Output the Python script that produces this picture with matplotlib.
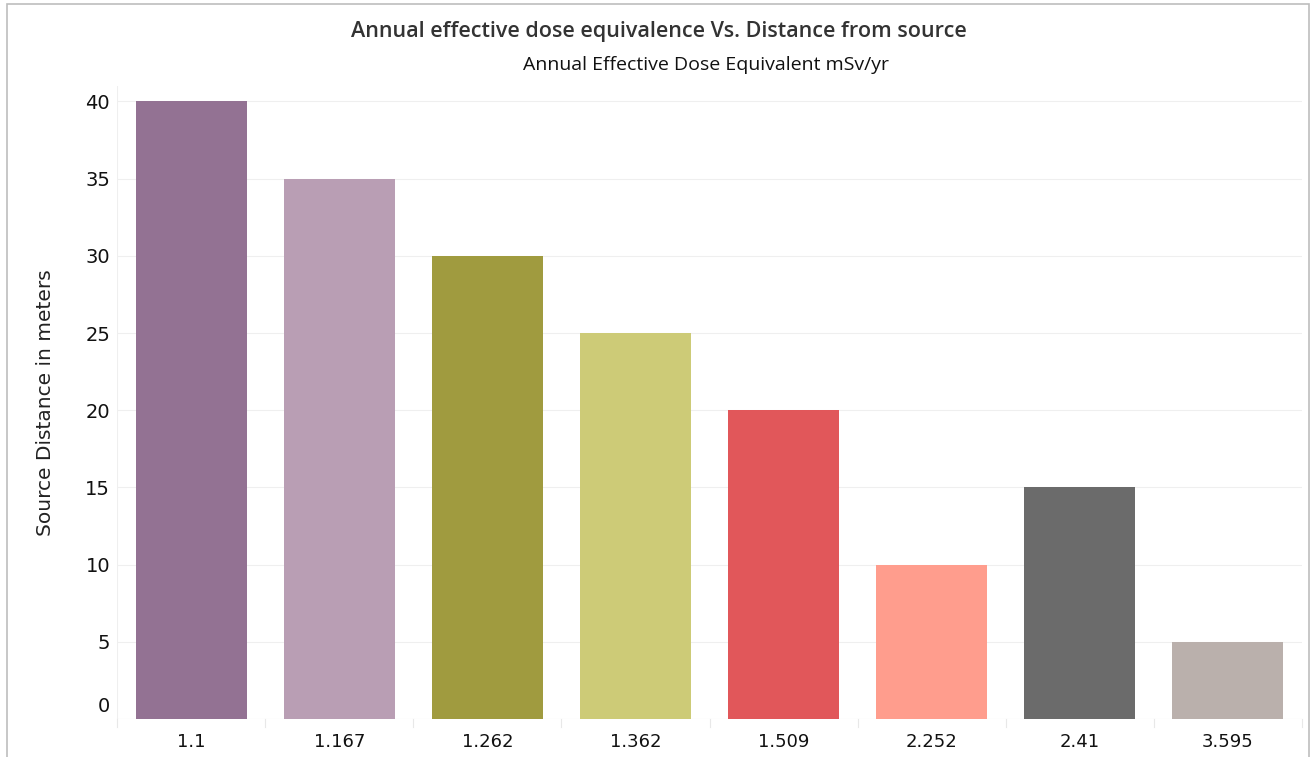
import matplotlib.pyplot as plt
import matplotlib.transforms as mtransforms
from matplotlib.patches import Rectangle

# dose (mSv/yr) categories and the source distance for each
dose_labels = ["1.1", "1.167", "1.262", "1.362", "1.509", "2.252", "2.41", "3.595"]
distance_m = [40, 35, 30, 25, 20, 10, 15, 5]
bar_colors = ["#937293", "#b99eb4", "#a09b3f", "#cdcb77",
              "#e1575a", "#ff9d8d", "#6b6b6b", "#bab0ac"]
y_ticks = [0, 5, 10, 15, 20, 25, 30, 35, 40]

plt.rcParams['font.family'] = ['DejaVu Sans']

fig = plt.figure(figsize=(13.12, 7.57), dpi=100)
ax = fig.add_axes([117 / 1312, 1 - 719 / 757, (1302 - 117) / 1312, (719 - 86) / 757])

x = list(range(len(dose_labels)))
ax.bar(x, distance_m, width=0.75, color=bar_colors, zorder=2)

ax.set_xlim(-0.5, len(dose_labels) - 0.5)
ax.set_ylim(0, 41)
ax.set_yticks(y_ticks)
ax.set_xticks(x)
ax.set_xticklabels(dose_labels)
ax.tick_params(axis='both', length=0, colors="#111111")
ax.tick_params(axis='y', pad=5, labelsize=14)
ax.tick_params(axis='x', pad=10, labelsize=13)

# the zero label sits a little above the baseline
zero_lbl = ax.get_yticklabels()[0]
zero_lbl.set_transform(zero_lbl.get_transform() +
                       mtransforms.ScaledTranslation(0, 15 / 100, fig.dpi_scale_trans))

# faint horizontal grid, left rule and short category separators under the baseline
ax.grid(axis='y', color="#efefef", linewidth=0.8, zorder=0)
for s in ax.spines.values():
    s.set_visible(False)
ax.axvline(-0.5, color="#efefef", linewidth=0.8, zorder=0)
ax.axhline(0, color="#efefef", linewidth=0.8, zorder=1)
for sep in [i - 0.5 for i in range(len(dose_labels) + 1)]:
    ax.plot([sep, sep], [0, -0.5], color="#e8e8e8", linewidth=0.8,
            clip_on=False, zorder=0)

ax.set_ylabel("Source Distance in meters", fontsize=14.5, color="#222222", labelpad=22)

fig.text(0.502, 1 - 31 / 757, "Annual effective dose equivalence Vs. Distance from source",
         ha='center', va='center', fontsize=15.5, fontweight='semibold', color="#333333",
         family=['Open Sans', 'DejaVu Sans'], stretch='condensed')
fig.text(0.538, 1 - 65 / 757, "Annual Effective Dose Equivalent mSv/yr",
         ha='center', va='center', fontsize=14, color="#111111",
         family=['Open Sans', 'DejaVu Sans'])

# outer frame
fig.add_artist(Rectangle((7 / 1312, -0.01), (1309 - 7) / 1312, 1 - 4 / 757 + 0.01,
                         transform=fig.transFigure, fill=False,
                         edgecolor="#bdbdbd", linewidth=1.2))

fig.savefig("out.png", dpi=100)
